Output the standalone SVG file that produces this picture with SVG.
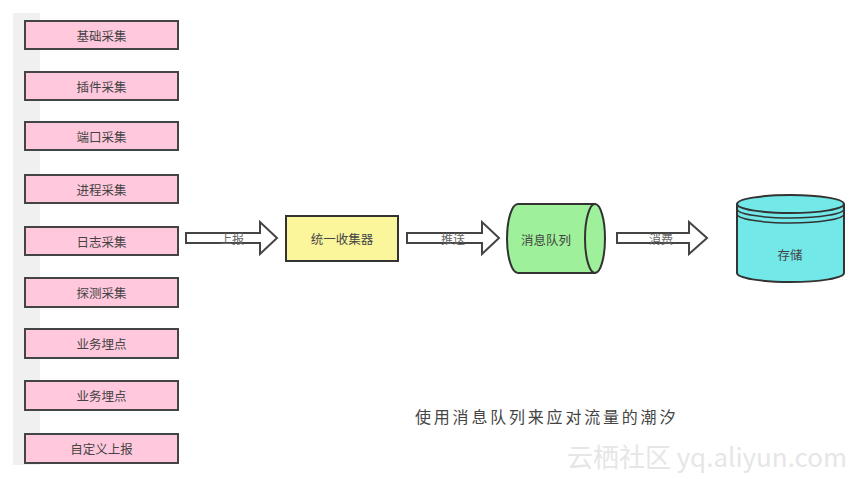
<svg xmlns="http://www.w3.org/2000/svg" width="859" height="479" viewBox="0 0 859 479">
<style>
  .src rect { fill: #ffc8dc; stroke: #444; stroke-width: 2; }
  .lbl { font-family: "Noto Sans CJK SC", "Liberation Sans", sans-serif; font-size: 12.5px; fill: #444; text-anchor: middle; dominant-baseline: central; }
  .alb { font-family: "Noto Sans CJK SC", "Liberation Sans", sans-serif; font-size: 12px; fill: #666; text-anchor: middle; dominant-baseline: central; }
  .arrow { fill: #fff; stroke: #444; stroke-width: 2; stroke-linejoin: miter; }
  .shape { stroke: #333; stroke-width: 2; }
</style>
<rect width="859" height="479" fill="#fff"/>
<rect x="13" y="13" width="27" height="452" fill="#f0f0f0"/>

<g id="n1" class="src"><rect x="25" y="21" width="153" height="28"/><text class="lbl" x="101.5" y="35">基础采集</text></g>
<g id="n2" class="src"><rect x="25" y="72" width="153" height="28"/><text class="lbl" x="101.5" y="86">插件采集</text></g>
<g id="n3" class="src"><rect x="25" y="122" width="153" height="28"/><text class="lbl" x="101.5" y="136">端口采集</text></g>
<g id="n4" class="src"><rect x="25" y="175" width="153" height="28"/><text class="lbl" x="101.5" y="189">进程采集</text></g>
<g id="n5" class="src"><rect x="25" y="227" width="153" height="28"/><text class="lbl" x="101.5" y="241">日志采集</text></g>
<g id="n6" class="src"><rect x="25" y="278" width="153" height="29"/><text class="lbl" x="101.5" y="292.5">探测采集</text></g>
<g id="n7" class="src"><rect x="25" y="329" width="153" height="29"/><text class="lbl" x="101.5" y="343.5">业务埋点</text></g>
<g id="n8" class="src"><rect x="25" y="381" width="153" height="29"/><text class="lbl" x="101.5" y="395.5">业务埋点</text></g>
<g id="n9" class="src"><rect x="25" y="434" width="153" height="29"/><text class="lbl" x="101.5" y="448.5">自定义上报</text></g>

<g id="connectors">
  <path class="arrow" d="M186,233 H260 V222 L277,238 L260,254 V243 H186 Z"/>
  <text class="alb" x="232" y="238">上报</text>
  <path class="arrow" d="M407,233 H482 V222 L499,238 L482,254 V243 H407 Z"/>
  <text class="alb" x="453" y="238">推送</text>
  <path class="arrow" d="M617,233 H689 V222 L707,238 L689,254 V243 H617 Z"/>
  <text class="alb" x="661" y="238">消费</text>
</g>

<g id="collector">
  <rect class="shape" x="286" y="216" width="112" height="45" fill="#fbf59c"/>
  <text class="lbl" x="342" y="238.5">统一收集器</text>
</g>

<g id="mq">
  <path class="shape" fill="#9ef09a" d="M595,204 H518 A11,34.5 0 0 0 518,273 H595 Z"/>
  <ellipse class="shape" cx="595" cy="238.5" rx="10" ry="34.5" fill="#9ef09a"/>
  <text class="lbl" x="546" y="239" fill="#444">消息队列</text>
</g>

<g id="storage">
  <path class="shape" fill="#72e8e8" d="M737,204 V273 A53.5,9 0 0 0 844,273 V204"/>
  <ellipse class="shape" cx="790.5" cy="204" rx="53.5" ry="9" fill="#72e8e8"/>
  <path d="M737,209 A53.5,9 0 0 0 844,209 M737,214 A53.5,9 0 0 0 844,214" fill="none" stroke="#333" stroke-width="1.5"/>
  <text class="lbl" x="790" y="254">存储</text>
</g>

<text x="415" y="423" font-family="Noto Sans CJK SC, sans-serif" font-size="16" fill="#444" letter-spacing="2.8">使用消息队列来应对流量的潮汐</text>
<text x="567" y="467" font-family="Noto Sans CJK SC, Liberation Sans, sans-serif" font-size="26" fill="#e6e6e6" textLength="280" lengthAdjust="spacingAndGlyphs">云栖社区 yq.aliyun.com</text>
</svg>
